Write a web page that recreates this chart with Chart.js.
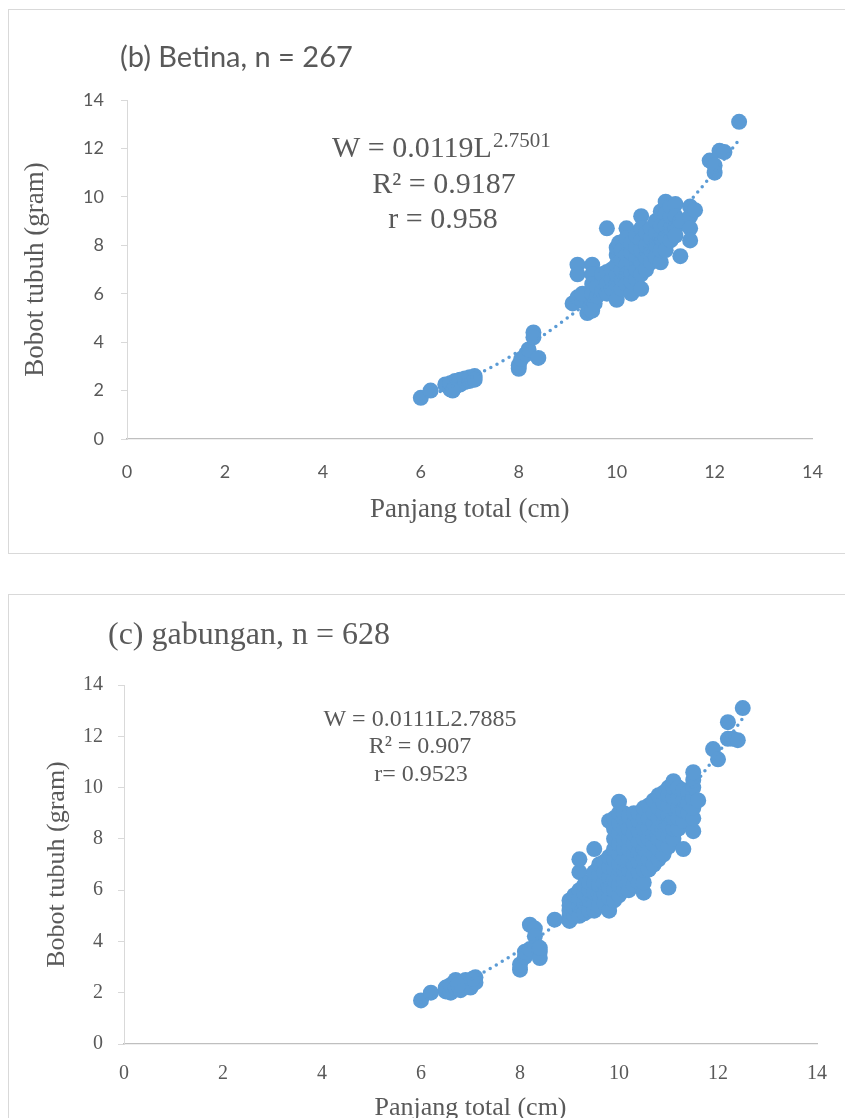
<!DOCTYPE html>
<html><head><meta charset="utf-8">
<script src="https://cdn.jsdelivr.net/npm/chart.js@4.4.0/dist/chart.umd.min.js"></script>
<style>
html,body{margin:0;padding:0;background:#fff;overflow:hidden;width:845px;height:1118px;position:relative;}
.box{position:absolute;border:1px solid #d9d9d9;background:#fff;}
#b1{left:8px;top:9px;width:900px;height:543px;}
#b2{left:8px;top:594px;width:900px;height:600px;}
#w1{position:absolute;left:0;top:0;width:845px;height:560px;}
#w2{position:absolute;left:0;top:570px;width:845px;height:580px;}
</style></head><body>
<div class="box" id="b1"></div><div class="box" id="b2"></div>
<div id="w1"><canvas id="c1" width="845" height="560"></canvas></div>
<div id="w2"><canvas id="c2" width="845" height="580"></canvas></div>
<script>
// ---- data ----
const betinaPoints = [
 [6.0,1.7],[6.2,2.0],[6.5,2.25],[6.6,2.05],[6.6,2.3],[6.7,2.4],[6.7,2.15],[6.8,2.25],[6.8,2.45],[6.9,2.35],[6.9,2.5],[7.0,2.4],[7.0,2.55],[7.1,2.6],[7.1,2.45],[6.65,2.0],
 [8.0,2.9],[8.0,3.05],[8.05,3.3],[8.15,3.5],[8.2,3.7],[8.3,4.4],[8.3,4.2],[8.4,3.35],
 [9.1,5.6],[9.2,5.85],[9.2,7.2],[9.2,6.8],[9.3,5.7],[9.3,6.0],[9.4,5.2],[9.45,5.4],[9.5,5.3],[9.5,7.2],[9.5,6.8],[9.5,6.4],[9.5,6.0],[9.55,5.6],[9.6,5.9],[9.6,6.3],[9.7,6.1],[9.7,6.5],[9.7,6.8],[9.8,8.7],[9.8,6.9],[9.8,6.4],[9.8,6.0],[9.9,6.2],[9.9,6.6],[9.9,7.0],
 [10.0,5.75],[10.0,6.4],[10.0,6.8],[10.0,7.2],[10.0,7.6],[10.0,7.9],[10.05,8.1],[10.1,6.2],[10.1,6.6],[10.1,7.0],[10.1,7.4],[10.1,7.8],[10.2,8.7],[10.2,8.3],[10.2,7.6],[10.2,7.2],[10.2,6.8],[10.2,6.4],
 [10.3,6.0],[10.3,6.5],[10.3,6.9],[10.3,7.3],[10.3,7.7],[10.3,8.1],[10.4,6.6],[10.4,7.0],[10.4,7.5],[10.4,7.9],[10.4,8.4],[10.5,9.2],[10.5,8.7],[10.5,8.2],[10.5,7.8],[10.5,7.3],[10.5,6.8],[10.5,6.2],
 [10.6,7.0],[10.6,7.5],[10.6,8.0],[10.6,8.5],[10.7,7.3],[10.7,7.8],[10.7,8.3],[10.7,8.7],[10.8,7.5],[10.8,8.0],[10.8,8.5],[10.8,9.0],[10.9,7.3],[10.9,7.8],[10.9,8.3],[10.9,8.8],[10.9,9.4],
 [11.0,9.8],[11.0,9.3],[11.0,8.8],[11.0,8.3],[11.0,7.8],[11.1,8.2],[11.1,8.7],[11.1,9.2],[11.1,9.6],[11.2,9.7],[11.2,9.2],[11.2,8.7],[11.2,8.4],[11.3,7.55],[11.3,9.0],
 [11.5,9.6],[11.5,9.2],[11.5,8.7],[11.5,8.2],[11.6,9.45],
 [11.9,11.5],[12.0,11.0],[12.0,11.3],[12.1,11.9],[12.2,11.85],[12.5,13.1]
];
const gabunganPoints = [
 [6.0,1.7],[6.2,2.0],[6.5,2.2],[6.5,2.05],[6.6,2.0],[6.6,2.3],[6.7,2.5],[6.7,2.2],[6.8,2.1],[6.8,2.4],[6.9,2.3],[6.9,2.5],[7.0,2.4],[7.0,2.2],[7.1,2.6],[7.1,2.4],[6.75,2.3],[7.05,2.55],
 [8.0,2.9],[8.0,3.1],[8.1,3.4],[8.1,3.6],[8.2,3.7],[8.2,4.65],[8.3,4.5],[8.3,4.2],[8.4,3.6],[8.4,3.35],[8.4,3.75],[8.7,4.85],
 [9.0,4.8],[9.0,5.0],[9.0,5.2],[9.0,5.4],[9.0,5.6],
 [9.1,5.0],[9.1,5.3],[9.1,5.5],[9.1,5.8],
 [9.2,5.0],[9.2,5.4],[9.2,5.7],[9.2,6.0],[9.2,6.7],[9.2,7.2],
 [9.3,5.1],[9.3,5.5],[9.3,5.9],[9.3,6.2],
 [9.4,5.2],[9.4,5.6],[9.4,6.0],[9.4,6.3],
 [9.5,5.2],[9.5,5.5],[9.5,5.9],[9.5,6.3],[9.5,6.7],[9.5,7.6],
 [9.6,5.4],[9.6,5.8],[9.6,6.2],[9.6,6.6],[9.6,7.0],
 [9.7,5.5],[9.7,5.9],[9.7,6.3],[9.7,6.7],[9.7,7.1],
 [9.8,5.2],[9.8,5.7],[9.8,6.1],[9.8,6.5],[9.8,6.9],[9.8,7.3],[9.8,8.7],
 [9.9,5.6],[9.9,6.0],[9.9,6.4],[9.9,6.8],[9.9,7.2],[9.9,7.6],[9.9,8.0],[9.9,8.4],[9.9,8.8],
 [10.0,5.8],[10.0,6.2],[10.0,6.6],[10.0,7.0],[10.0,7.4],[10.0,7.8],[10.0,8.2],[10.0,8.6],[10.0,9.0],[10.0,9.45],
 [10.1,6.0],[10.1,6.4],[10.1,6.8],[10.1,7.2],[10.1,7.6],[10.1,8.0],[10.1,8.4],[10.1,8.8],[10.1,9.0],
 [10.2,6.0],[10.2,6.4],[10.2,6.8],[10.2,7.2],[10.2,7.6],[10.2,8.0],[10.2,8.4],[10.2,8.9],
 [10.3,6.2],[10.3,6.6],[10.3,7.0],[10.3,7.4],[10.3,7.8],[10.3,8.2],[10.3,8.6],[10.3,9.0],
 [10.4,6.3],[10.4,6.7],[10.4,7.1],[10.4,7.5],[10.4,7.9],[10.4,8.3],[10.4,8.7],[10.4,9.0],
 [10.5,5.9],[10.5,6.3],[10.5,6.8],[10.5,7.2],[10.5,7.6],[10.5,8.0],[10.5,8.4],[10.5,8.8],[10.5,9.2],
 [10.6,6.8],[10.6,7.2],[10.6,7.6],[10.6,8.0],[10.6,8.4],[10.6,8.8],[10.6,9.3],
 [10.7,7.0],[10.7,7.4],[10.7,7.8],[10.7,8.2],[10.7,8.6],[10.7,9.0],[10.7,9.5],
 [10.8,7.2],[10.8,7.6],[10.8,8.0],[10.8,8.4],[10.8,8.8],[10.8,9.2],[10.8,9.7],
 [10.9,7.4],[10.9,7.8],[10.9,8.2],[10.9,8.6],[10.9,9.0],[10.9,9.4],[10.9,9.8],
 [11.0,6.1],[11.0,7.7],[11.0,8.1],[11.0,8.5],[11.0,8.9],[11.0,9.3],[11.0,9.7],[11.0,10.0],
 [11.1,8.0],[11.1,8.4],[11.1,8.8],[11.1,9.2],[11.1,9.6],[11.1,10.0],[11.1,10.25],
 [11.2,8.4],[11.2,8.8],[11.2,9.2],[11.2,9.6],[11.2,10.0],
 [11.3,7.6],[11.3,8.7],[11.3,9.1],[11.3,9.5],[11.3,9.9],
 [11.4,9.0],[11.4,9.4],[11.4,9.8],
 [11.5,8.3],[11.5,8.8],[11.5,9.2],[11.5,9.6],[11.5,10.0],[11.5,10.3],[11.5,10.6],
 [11.6,9.5],
 [11.9,11.5],[12.0,11.1],[12.2,11.9],[12.3,11.9],[12.4,11.85],[12.2,12.55],[12.5,13.1]
];
const trendL        = [6, 6.5, 7, 7.5, 8, 8.5, 9, 9.5, 10, 10.5, 11, 11.5, 12, 12.5];
const betinaTrendW  = [1.64, 2.05, 2.51, 3.03, 3.62, 4.28, 5.01, 5.81, 6.70, 7.66, 8.70, 9.83, 11.05, 12.36];
const gabunganTrendW= [1.64, 2.05, 2.52, 3.06, 3.66, 4.34, 5.09, 5.91, 6.82, 7.82, 8.90, 10.07, 11.34, 12.71];
const axisTicks = [0, 2, 4, 6, 8, 10, 12, 14];

// ---- rendering ----
const BLUE = '#5b9bd5', GREY = '#595959', SERIF = '"Liberation Serif", "Times New Roman", serif';
const textPlugin = {
  id: 'textOverlay',
  afterDraw(chart, args, opts) {
    const ctx = chart.ctx;
    ctx.save();
    (opts.items || []).forEach(it => {
      ctx.font = it.font; ctx.fillStyle = it.color || GREY;
      ctx.textBaseline = 'alphabetic'; ctx.textAlign = it.align || 'left';
      ctx.fillText(it.text, it.x, it.y);
      if (it.sup) {
        const w = ctx.measureText(it.text).width;
        ctx.font = it.supFont; ctx.textAlign = 'left';
        ctx.fillText(it.sup, it.x + w + 1, it.y - it.supRise);
      }
    });
    ctx.restore();
  }
};

function makeChart(id, pts, trendW, cfg) {
  return new Chart(document.getElementById(id), {
    type: 'scatter',
    data: { datasets: [
      { type: 'line', data: trendL.map((x, i) => ({x, y: trendW[i]})), borderColor: BLUE, borderWidth: 3.5,
        borderDash: [0, 7], borderCapStyle: 'round', pointRadius: 0, cubicInterpolationMode: 'monotone', fill: false },
      { data: pts.map(p => ({x: p[0], y: p[1]})), backgroundColor: BLUE, borderColor: BLUE, borderWidth: 0, pointRadius: 8 }
    ]},
    options: {
      responsive: false, animation: false, devicePixelRatio: 1,
      layout: { padding: { top: cfg.top, right: cfg.right, left: 0, bottom: 0 } },
      plugins: { legend: { display: false }, tooltip: { enabled: false }, textOverlay: { items: cfg.items } },
      scales: {
        x: { type: 'linear', min: 0, max: 14,
          afterBuildTicks: s => { s.ticks = axisTicks.map(v => ({value: v})); },
          ticks: { color: GREY, font: cfg.tickFont, padding: cfg.xTickPad, maxRotation: 0 },
          grid: { display: false, drawTicks: false },
          border: { display: true, color: '#bfbfbf', width: 1.2 },
          title: { display: true, text: 'Panjang total (cm)', color: GREY, font: { family: SERIF, size: cfg.axFont }, padding: { top: 0, bottom: cfg.xTitlePad } },
          afterFit: s => { s.height = cfg.xH; } },
        y: { min: 0, max: 14,
          afterBuildTicks: s => { s.ticks = axisTicks.map(v => ({value: v})); },
          ticks: { color: GREY, font: cfg.tickFont, padding: cfg.yTickPad },
          grid: { drawOnChartArea: false, drawTicks: true, tickLength: 6, color: '#d9d9d9' },
          border: { display: true, color: '#d9d9d9', width: 1 },
          title: { display: true, text: 'Bobot tubuh (gram)', color: GREY, font: { family: SERIF, size: cfg.axFont }, padding: { top: cfg.yTitlePad, bottom: 0 } },
          afterFit: s => { s.width = cfg.yW; } }
      }
    },
    plugins: [textPlugin]
  });
}

makeChart('c1', betinaPoints, betinaTrendW, {
  top: 100, right: 29, xH: 121, yW: 127, axFont: 27, xTitlePad: 34, yTitlePad: 20,
  tickFont: { family: 'Lato', size: 18 }, xTickPad: 22, yTickPad: 17,
  items: [
    { text: '(b) Betina, n = 267', x: 120, y: 67, font: '29px Lato' },
    { text: 'W = 0.0119L', x: 332, y: 157, font: '30px ' + SERIF, sup: '2.7501', supFont: '21px ' + SERIF, supRise: 10 },
    { text: 'R² = 0.9187', x: 444, y: 193, font: '30px ' + SERIF, align: 'center' },
    { text: 'r = 0.958', x: 443, y: 228, font: '30px ' + SERIF, align: 'center' }
  ]
});
makeChart('c2', gabunganPoints, gabunganTrendW, {
  top: 115, right: 16, xH: 106, yW: 124, axFont: 26, xTitlePad: 26, yTitlePad: 42,
  tickFont: { family: SERIF, size: 20 }, xTickPad: 18, yTickPad: 15,
  items: [
    { text: '(c) gabungan, n = 628', x: 108, y: 74, font: '32px ' + SERIF },
    { text: 'W = 0.0111L2.7885', x: 420, y: 156, font: '24px ' + SERIF, align: 'center' },
    { text: 'R² = 0.907', x: 420, y: 183, font: '24px ' + SERIF, align: 'center' },
    { text: 'r= 0.9523', x: 421, y: 211, font: '24px ' + SERIF, align: 'center' }
  ]
});
</script>
</body></html>
